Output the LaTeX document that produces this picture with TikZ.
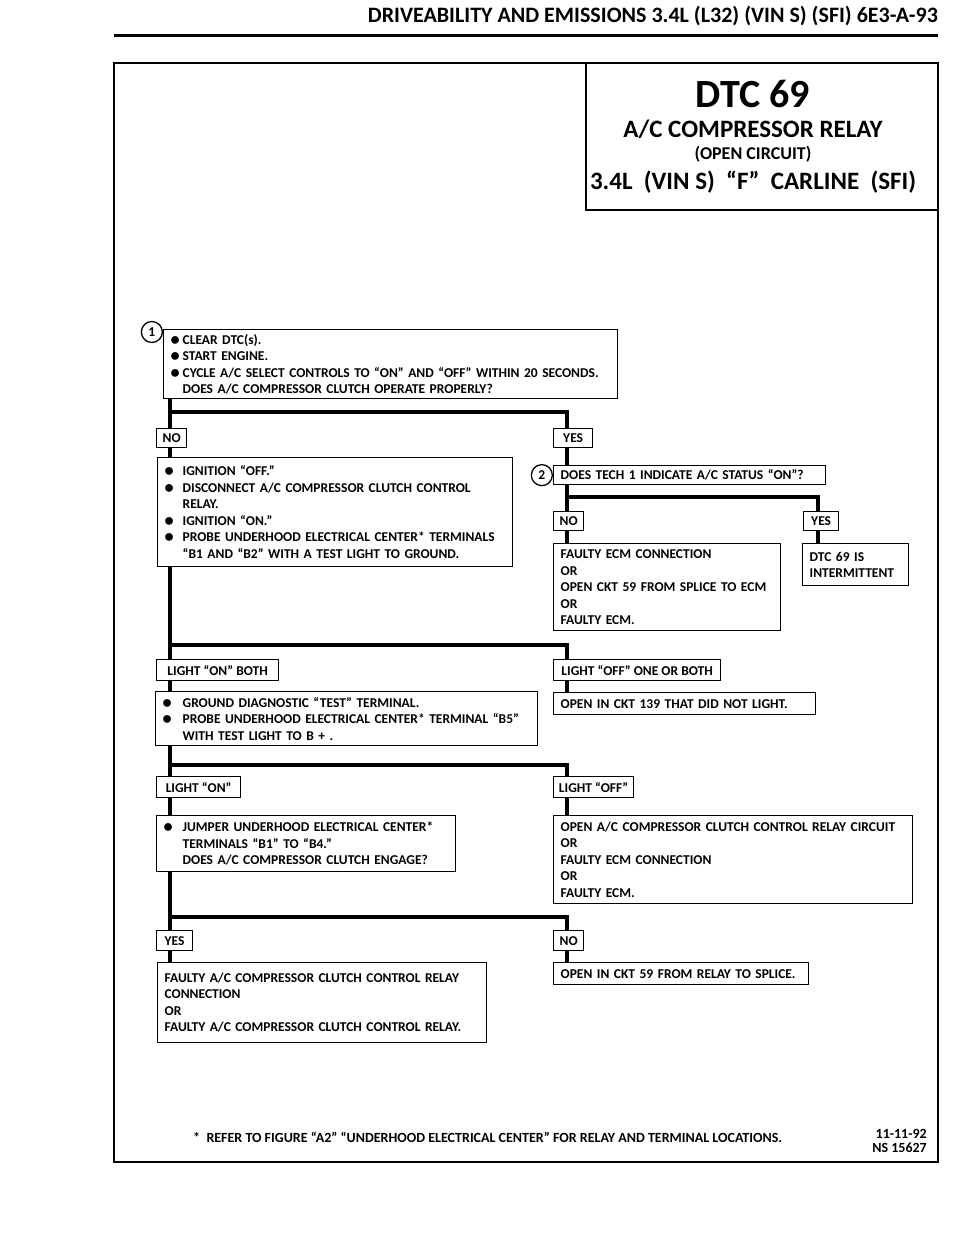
\documentclass[tikz,border=0pt]{standalone}
\usepackage{fontspec}
\setmainfont{Carlito}
\usetikzlibrary{positioning}
\newcommand\boxfont{\bfseries\fontsize{13.5}{16.5}\selectfont}
\newcommand\bul[1]{\makebox[#1][l]{\raisebox{-0.15ex}{\scalebox{1.35}{\textbullet}}}}
\newcommand\ind[1]{\makebox[#1]{}}
\tikzset{
  frame/.style={draw, line width=2.5pt},
  box/.style={draw, line width=1.3pt, fill=white, anchor=north west, inner xsep=7pt, inner ysep=0pt, align=left, font=\boxfont},
  sz/.style 2 args={minimum width=#1pt, minimum height=#2pt, text width=#1pt-14pt},
  lbl/.style={draw, line width=1.3pt, fill=white, anchor=north west, inner sep=0pt, align=center, font=\boxfont},
  lsz/.style 2 args={minimum width=#1pt, minimum height=#2pt},
  num/.style={draw, circle, line width=1.3pt, minimum size=21pt, inner sep=0pt, font=\boxfont},
  ttl/.style={font=\bfseries\fontsize{#1}{#1}\selectfont, anchor=base, inner sep=0pt},
  flow/.style={line width=4pt}
}

\begin{document}
\begin{tikzpicture}[x=1pt,y=-1pt]
\useasboundingbox (0,0) rectangle (960,1250);

% ---------------- Header ----------------
\node[font=\bfseries\fontsize{22}{24}\selectfont, anchor=base east, inner sep=0pt] (hdr) at (938,22)
  {DRIVEABILITY AND EMISSIONS 3.4L (L32) (VIN S) (SFI) 6E3-A-93};
\draw[line width=3pt] (114,35) -- (938,35);

% ---------------- Frame and title ----------------
\draw[frame] (114,63) rectangle (938,1162);
\draw[line width=1.8pt] (586,63) rectangle (938,210);
\node[ttl=40] (t1) at (753,107) {DTC 69};
\node[ttl=25] (t2) at (753,137) {A/C COMPRESSOR RELAY};
\node[ttl=18] (t3) at (753,159) {(OPEN CIRCUIT)};
\node[ttl=25] (t4) at (753,189) {3.4L\ \ (VIN S)\ \ “F”\ \ CARLINE\ \ (SFI)};

% ---------------- Columns and bars ----------------
\coordinate (colL) at (170,0);
\coordinate (colR) at (567,0);
\coordinate (colRR) at (818,0);
\coordinate (b1) at (0,412);
\coordinate (b2) at (0,497);
\coordinate (b3) at (0,645);
\coordinate (b4) at (0,765);
\coordinate (b5) at (0,917);

% ---------------- Step 1 ----------------
\node[box, sz={454}{69}] (clear) at (163,329)
  {\bul{12pt}CLEAR DTC(s).\\
   \bul{12pt}START ENGINE.\\
   \bul{12pt}CYCLE A/C SELECT CONTROLS TO ``ON'' AND ``OFF'' WITHIN 20 SECONDS.\\
   \ind{12pt}DOES A/C COMPRESSOR CLUTCH OPERATE PROPERLY?};
\node[num, left=0pt of clear.north west, yshift=-3pt] (n1) {1};

\node[lbl, lsz={30}{19}] (no1) at (156,428) {NO};
\node[lbl, lsz={39}{19}] (yes1) at (553,428) {YES};

\node[box, sz={355}{109}] (ign) at (157,457)
  {\bul{18pt}IGNITION ``OFF.''\\
   \bul{18pt}DISCONNECT A/C COMPRESSOR CLUTCH CONTROL\\
   \ind{18pt}RELAY.\\
   \bul{18pt}IGNITION ``ON.''\\
   \bul{18pt}PROBE UNDERHOOD ELECTRICAL CENTER* TERMINALS\\
   \ind{18pt}``B1 AND ``B2'' WITH A TEST LIGHT TO GROUND.};

% ---------------- Step 2 ----------------
\node[box, sz={272}{19}] (tech) at (553,465) {DOES TECH 1 INDICATE A/C STATUS ``ON''?};
\node[num, left=0pt of tech] (n2) {2};

\node[lbl, lsz={30}{19}] (no2) at (553,511) {NO};
\node[lbl, lsz={35}{19}] (yes2) at (803,511) {YES};

\node[box, sz={227}{87}] (ecm) at (553,543)
  {FAULTY ECM CONNECTION\\ OR\\ OPEN CKT 59 FROM SPLICE TO ECM\\ OR\\ FAULTY ECM.};
\node[box, sz={106}{42}] (interm) at (802,543) {DTC 69 IS\\ INTERMITTENT};

% ---------------- Test light results ----------------
\node[lbl, lsz={122}{21}] (onboth) at (156,659) {LIGHT ``ON'' BOTH};
\node[lbl, lsz={167}{21}] (offboth) at (553,659) {LIGHT ``OFF'' ONE OR BOTH};

\node[box, sz={382}{54}] (ground) at (155,691)
  {\bul{20pt}GROUND DIAGNOSTIC ``TEST'' TERMINAL.\\
   \bul{20pt}PROBE UNDERHOOD ELECTRICAL CENTER* TERMINAL ``B5''\\
   \ind{20pt}WITH TEST LIGHT TO B + .};
\node[box, sz={262}{22}] (ckt139) at (553,692) {OPEN IN CKT 139 THAT DID NOT LIGHT.};

\node[lbl, lsz={84}{21}] (lon) at (156,776) {LIGHT ``ON''};
\node[lbl, lsz={80}{21}] (loff) at (553,776) {LIGHT ``OFF''};

\node[box, sz={299}{56}] (jumper) at (156,815)
  {\bul{19pt}JUMPER UNDERHOOD ELECTRICAL CENTER*\\
   \ind{19pt}TERMINALS ``B1'' TO ``B4.''\\
   \ind{19pt}DOES A/C COMPRESSOR CLUTCH ENGAGE?};
\node[box, sz={359}{88}] (relayckt) at (553,815)
  {OPEN A/C COMPRESSOR CLUTCH CONTROL RELAY CIRCUIT\\ OR\\ FAULTY ECM CONNECTION\\ OR\\ FAULTY ECM.};

% ---------------- Clutch engage results ----------------
\node[lbl, lsz={36}{20}] (yes3) at (156,930) {YES};
\node[lbl, lsz={30}{20}] (no3) at (553,930) {NO};

\node[box, sz={329}{80}] (faulty) at (157,962)
  {FAULTY A/C COMPRESSOR CLUTCH CONTROL RELAY\\ CONNECTION\\ OR\\ FAULTY A/C COMPRESSOR CLUTCH CONTROL RELAY.};
\node[box, sz={255}{22}] (ckt59) at (553,962) {OPEN IN CKT 59 FROM RELAY TO SPLICE.};

% ---------------- Flow lines ----------------
\draw[flow] (clear.south -| colL) -- (no1.north -| colL);
\draw[flow] (b1 -| colL) -- (b1 -| colR) -- (yes1.north -| colR);
\draw[flow] (no1.south -| colL) -- (ign.north -| colL);
\draw[flow] (yes1.south -| colR) -- (tech.north -| colR);

\draw[flow] (tech.south -| colR) -- (no2.north -| colR);
\draw[flow] (b2 -| colR) -- (b2 -| colRR) -- (yes2.north -| colRR);
\draw[flow] (no2.south -| colR) -- (ecm.north -| colR);
\draw[flow] (yes2.south -| colRR) -- (interm.north -| colRR);

\draw[flow] (ign.south -| colL) -- (onboth.north -| colL);
\draw[flow] (b3 -| colL) -- (b3 -| colR) -- (offboth.north -| colR);
\draw[flow] (onboth.south -| colL) -- (ground.north -| colL);
\draw[flow] (offboth.south -| colR) -- (ckt139.north -| colR);

\draw[flow] (ground.south -| colL) -- (lon.north -| colL);
\draw[flow] (b4 -| colL) -- (b4 -| colR) -- (loff.north -| colR);
\draw[flow] (lon.south -| colL) -- (jumper.north -| colL);
\draw[flow] (loff.south -| colR) -- (relayckt.north -| colR);

\draw[flow] (jumper.south -| colL) -- (yes3.north -| colL);
\draw[flow] (b5 -| colL) -- (b5 -| colR) -- (no3.north -| colR);
\draw[flow] (yes3.south -| colL) -- (faulty.north -| colL);
\draw[flow] (no3.south -| colR) -- (ckt59.north -| colR);

% ---------------- Footnote ----------------
\node[font=\bfseries\fontsize{14}{16}\selectfont, anchor=base west, inner sep=0pt] (note) at (193,1142)
  {*\ \ REFER TO FIGURE ``A2'' ``UNDERHOOD ELECTRICAL CENTER'' FOR RELAY AND TERMINAL LOCATIONS.};
\node[font=\bfseries\fontsize{14}{16}\selectfont, anchor=base east, inner sep=0pt] (date) at (927,1138) {11-11-92};
\node[font=\bfseries\fontsize{14}{16}\selectfont, anchor=base east, inner sep=0pt] (ns) at (927,1152) {NS 15627};

\end{tikzpicture}
\end{document}
